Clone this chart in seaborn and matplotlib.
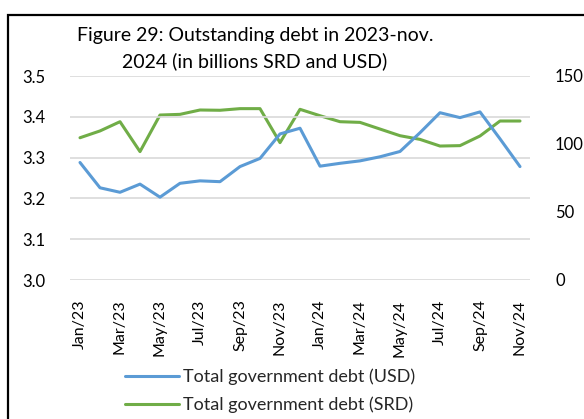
import matplotlib
matplotlib.use("Agg")
import matplotlib.pyplot as plt
import matplotlib.patches as mpatches
import pandas as pd
import seaborn as sns

months = ["Jan/23", "Feb/23", "Mar/23", "Apr/23", "May/23", "Jun/23", "Jul/23", "Aug/23",
          "Sep/23", "Oct/23", "Nov/23", "Dec/23", "Jan/24", "Feb/24", "Mar/24", "Apr/24",
          "May/24", "Jun/24", "Jul/24", "Aug/24", "Sep/24", "Oct/24", "Nov/24"]
debt_usd = [3.288, 3.226, 3.215, 3.235, 3.203, 3.237, 3.243, 3.241, 3.278, 3.298, 3.358, 3.372,
            3.279, 3.286, 3.292, 3.302, 3.315, 3.361, 3.410, 3.398, 3.412, 3.346, 3.278]
debt_srd = [104.6, 109.6, 116.4, 94.4, 121.3, 121.8, 125.0, 124.8, 126.0, 126.0, 101.0, 125.5,
            120.8, 116.4, 115.9, 111.0, 106.1, 103.4, 98.5, 98.8, 105.9, 116.9, 116.9]
left_ticks = [3.0, 3.1, 3.2, 3.3, 3.4, 3.5]
right_ticks = [0, 50, 100, 150]

blue = "#5B9BD5"
green = "#70AD47"

sns.set_theme(style="white")
plt.rcParams["font.family"] = ["Lato", "DejaVu Sans"]

df = pd.DataFrame({"pos": range(len(months)), "month": months,
                   "usd": debt_usd, "srd": debt_srd})

fig = plt.figure(figsize=(5.84, 4.19), dpi=100)
ax = fig.add_axes([70 / 584, 1 - 280 / 419, 460 / 584, 204 / 419])
ax2 = ax.twinx()

sns.lineplot(data=df, x="pos", y="usd", ax=ax, color=blue, linewidth=2.2,
             label="Total government debt (USD)", legend=False)
sns.lineplot(data=df, x="pos", y="srd", ax=ax2, color=green, linewidth=2.2,
             label="Total government debt (SRD)", legend=False)

ax.set_xlim(-0.5, len(months) - 0.5)
ax.set_ylim(3.0, 3.5)
ax2.set_ylim(0, 150)
ax.set_yticks(left_ticks)
ax.set_yticklabels([f"{v:.1f}" for v in left_ticks])
ax2.set_yticks(right_ticks)

ax.set_xticks(df["pos"][::2])
ax.set_xticklabels(df["month"][::2], rotation=90, fontsize=11.5, color="#000000")
ax.tick_params(axis="x", length=0, pad=14)
ax.tick_params(axis="y", length=0, pad=18, labelsize=12, labelcolor="#000000")
ax2.tick_params(axis="y", length=0, pad=18, labelsize=12, labelcolor="#000000")
ax.set_xlabel("")
ax.set_ylabel("")
ax2.set_ylabel("")

ax.grid(False)
ax2.grid(False)
for v in left_ticks:
    ax.axhline(v, color="#D9D9D9", linewidth=1.2, zorder=0)
for a in (ax, ax2):
    for s in a.spines.values():
        s.set_visible(False)
ax.set_zorder(ax2.get_zorder() + 1)
ax.patch.set_visible(False)

fig.text(255 / 584, 1 - 35 / 419, "Figure 29: Outstanding debt in 2023-nov.",
         ha="center", va="center", fontsize=14, color="#000000")
fig.text(255 / 584, 1 - 61 / 419, "2024 (in billions SRD and USD)",
         ha="center", va="center", fontsize=14, color="#000000")

handles = [plt.Line2D([], [], color=blue, linewidth=2.2),
           plt.Line2D([], [], color=green, linewidth=2.2)]
fig.legend(handles, ["Total government debt (USD)", "Total government debt (SRD)"],
           loc="center", bbox_to_anchor=(270 / 584, 1 - 391 / 419), frameon=False,
           fontsize=13, handlelength=3.0, handletextpad=0.2, labelspacing=0.65,
           borderaxespad=0)

frame = mpatches.Rectangle((8 / 584, -0.1), 1.2, 1 - 15 / 419 + 0.1,
                           transform=fig.transFigure, fill=False,
                           edgecolor="#000000", linewidth=1.6, clip_on=False)
fig.patches.append(frame)

fig.savefig("out.png", dpi=100)
